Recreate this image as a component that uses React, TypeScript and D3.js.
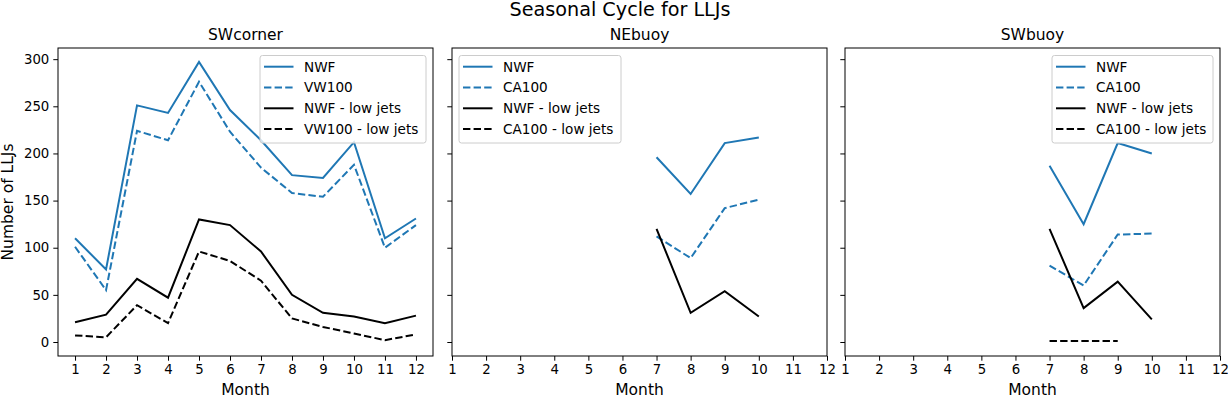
import React, { useEffect, useRef } from "react";
import * as d3 from "d3";

const months = [1, 2, 3, 4, 5, 6, 7, 8, 9, 10, 11, 12];
const panelTitles = ["SWcorner", "NEbuoy", "SWbuoy"];
const refNames = ["VW100", "CA100", "CA100"];

// SWcorner
const swcNwf = [110, 77, 251, 243, 297, 246, 214, 177, 174, 212, 110, 131];
const swcRef = [101, 55, 224, 214, 276, 223, 185, 158, 154, 188, 100, 124];
const swcNwfLow = [21, 29, 67, 47, 130, 124, 96, 50, 31, 27, 20, 28];
const swcRefLow = [7, 5, 39, 20, 96, 86, 65, 25, 16, 9, 2, 8];

// NEbuoy
const neNwf = [null, null, null, null, null, null, 196, 157, 211, 217, null, null];
const neRef = [null, null, null, null, null, null, 112, 89, 142, 151, null, null];
const neNwfLow = [null, null, null, null, null, null, 120, 31, 54, 27, null, null];
const neRefLow = [null, null, null, null, null, null, null, null, null, null, null, null];

// SWbuoy
const swbNwf = [null, null, null, null, null, null, 187, 125, 211, 200, null, null];
const swbRef = [null, null, null, null, null, null, 81, 60, 114, 115, null, null];
const swbNwfLow = [null, null, null, null, null, null, 120, 36, 64, 24, null, null];
const swbRefLow = [null, null, null, null, null, null, 1, 1, 1, null, null, null];

const yTicks = [0, 50, 100, 150, 200, 250, 300];

const BLUE = "#1f77b4";
const FONT = "DejaVu Sans, sans-serif";

const App = () => {
  const svgRef = useRef(null);

  useEffect(() => {
    const width = 1228, height = 397;
    const svg = d3.select(svgRef.current).attr("width", width).attr("height", height);
    svg.selectAll("*").remove();

    const top = 48, bottom = 356;
    const y = d3.scaleLinear().domain([-14.85, 311.85]).range([bottom, top]);

    const panels = [
      { left: 58, right: 433, domain: [0.45, 12.55], data: [swcNwf, swcRef, swcNwfLow, swcRefLow], legendX: 260, legendW: 166 },
      { left: 452, right: 827, domain: [1, 12], data: [neNwf, neRef, neNwfLow, neRefLow], legendX: 459, legendW: 162 },
      { left: 845, right: 1220, domain: [1, 12], data: [swbNwf, swbRef, swbNwfLow, swbRefLow], legendX: 1052, legendW: 161 },
    ];

    svg.append("text")
      .attr("x", 620).attr("y", 16)
      .attr("text-anchor", "middle")
      .style("font-family", FONT).style("font-size", "19.2px")
      .text("Seasonal Cycle for LLJs");

    panels.forEach((p, i) => {
      const x = d3.scaleLinear().domain(p.domain).range([p.left, p.right]);
      const g = svg.append("g");

      const styles = [
        { color: BLUE, dash: null },
        { color: BLUE, dash: "7.4,3.2" },
        { color: "#000", dash: null },
        { color: "#000", dash: "7.4,3.2" },
      ];

      const line = d3.line()
        .defined(d => d[1] != null)
        .x(d => x(d[0]))
        .y(d => y(d[1]));

      p.data.forEach((series, k) => {
        const pts = months.map((m, j) => [m, series[j]]);
        if (!pts.some(d => d[1] != null)) return;
        g.append("path")
          .attr("d", line(pts))
          .attr("fill", "none")
          .attr("stroke", styles[k].color)
          .attr("stroke-width", 2)
          .attr("stroke-dasharray", styles[k].dash);
      });

      // axes
      const xAxis = g.append("g")
        .attr("transform", `translate(0,${bottom})`)
        .call(d3.axisBottom(x).tickValues(months).tickSize(4.7).tickPadding(4));
      xAxis.select(".domain").remove();
      xAxis.selectAll("text").style("font-family", FONT).style("font-size", "13.3px").attr("fill", "#000");

      const yAxis = g.append("g")
        .attr("transform", `translate(${p.left},0)`)
        .call(d3.axisLeft(y).tickValues(yTicks).tickSize(4.7).tickPadding(4).tickFormat(i === 0 ? d3.format("d") : () => ""));
      yAxis.select(".domain").remove();
      yAxis.selectAll("text").style("font-family", FONT).style("font-size", "13.3px").attr("fill", "#000");

      g.append("rect")
        .attr("x", p.left).attr("y", top)
        .attr("width", p.right - p.left).attr("height", bottom - top)
        .attr("fill", "none").attr("stroke", "#000").attr("stroke-width", 1);

      g.append("text")
        .attr("x", (p.left + p.right) / 2).attr("y", 40)
        .attr("text-anchor", "middle")
        .style("font-family", FONT).style("font-size", "15.5px")
        .text(panelTitles[i]);

      g.append("text")
        .attr("x", (p.left + p.right) / 2).attr("y", 395)
        .attr("text-anchor", "middle")
        .style("font-family", FONT).style("font-size", "15.5px")
        .text("Month");

      // legend
      const labels = ["NWF", refNames[i], "NWF - low jets", refNames[i] + " - low jets"];
      const lg = g.append("g");
      lg.append("rect")
        .attr("x", p.legendX).attr("y", 55.5)
        .attr("width", p.legendW).attr("height", 87.5)
        .attr("rx", 2.5)
        .attr("fill", "#fff").attr("fill-opacity", 0.8)
        .attr("stroke", "#ccc").attr("stroke-width", 1);
      labels.forEach((lab, k) => {
        const cy = 66.7 + k * 20.8;
        lg.append("line")
          .attr("x1", p.legendX + 4).attr("x2", p.legendX + 33.5)
          .attr("y1", cy).attr("y2", cy)
          .attr("stroke", styles[k].color).attr("stroke-width", 2)
          .attr("stroke-dasharray", styles[k].dash);
        lg.append("text")
          .attr("x", p.legendX + 44).attr("y", cy + 4.9)
          .style("font-family", FONT).style("font-size", "13.6px")
          .text(lab);
      });
    });

    svg.append("text")
      .attr("transform", `translate(13,202) rotate(-90)`)
      .attr("text-anchor", "middle")
      .style("font-family", FONT).style("font-size", "15.5px")
      .text("Number of LLJs");
  }, []);

  return (
    <div style={{ position: "absolute", left: 0, top: 0 }}>
      <svg ref={svgRef} style={{ display: "block" }}></svg>
    </div>
  );
};

export default App;
